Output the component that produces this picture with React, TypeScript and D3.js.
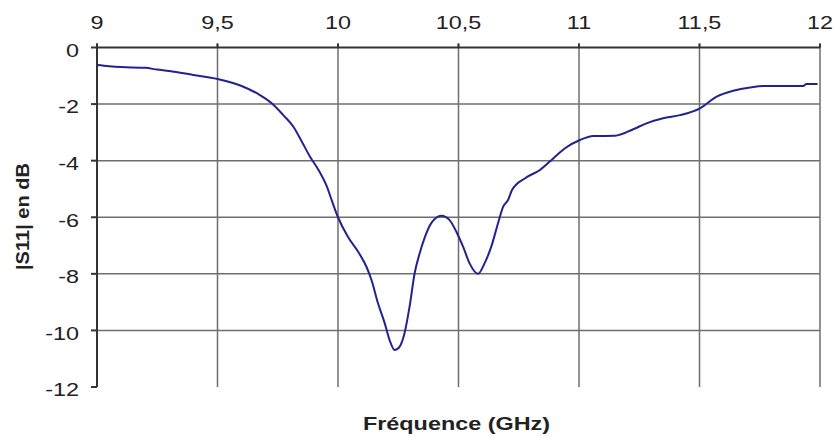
import React from "react";
import * as d3 from "d3";

const freq = [
  9.0, 9.05, 9.1, 9.2, 9.25, 9.3, 9.4, 9.5, 9.6, 9.676, 9.725, 9.773, 9.815, 9.85,
  9.884, 9.919, 9.954, 9.976, 10.0, 10.041, 10.083, 10.118, 10.139, 10.166, 10.194,
  10.214, 10.235, 10.256, 10.276, 10.297, 10.318, 10.339, 10.359, 10.387, 10.429,
  10.463, 10.491, 10.519, 10.546, 10.581, 10.608, 10.636, 10.664, 10.685, 10.705,
  10.722, 10.776, 10.838, 10.893, 10.942, 11.004, 11.06, 11.149, 11.225, 11.28,
  11.349, 11.419, 11.502, 11.571, 11.64, 11.71, 11.765, 11.93, 11.944, 11.99,
];
const s11 = [
  -0.62, -0.66, -0.69, -0.72, -0.78, -0.83, -0.97, -1.11, -1.36, -1.68, -1.97, -2.39,
  -2.8, -3.33, -3.86, -4.33, -4.92, -5.45, -6.0, -6.69, -7.21, -7.75, -8.22, -9.04,
  -9.75, -10.34, -10.69, -10.57, -10.1, -9.16, -7.98, -7.27, -6.74, -6.21, -5.95,
  -6.1, -6.51, -7.04, -7.63, -8.0, -7.63, -7.04, -6.21, -5.63, -5.4, -5.04, -4.62,
  -4.33, -3.92, -3.56, -3.27, -3.13, -3.12, -2.89, -2.68, -2.5, -2.39, -2.15, -1.74,
  -1.53, -1.41, -1.36, -1.36, -1.29, -1.29,
];
const xTicks = [9, 9.5, 10, 10.5, 11, 11.5, 12];
const xTickLabels = ["9", "9,5", "10", "10,5", "11", "11,5", "12"];
const yTicks = [0, -2, -4, -6, -8, -10, -12];
const yTickLabels = ["0", "-2", "-4", "-6", "-8", "-10", "-12"];
const xTitle = "Fréquence (GHz)";
const yTitle = "|S11| en dB";

export default function App() {
  const W = 834, H = 436;
  const x = d3.scaleLinear().domain([9, 12]).range([97, 820]);
  const y = d3.scaleLinear().domain([0, -12]).range([47.5, 387]);
  const pts = freq.map((f, i) => [f, s11[i]] as [number, number]);
  const line = d3
    .line<[number, number]>()
    .x((d) => x(d[0]))
    .y((d) => y(d[1]))
    .curve(d3.curveMonotoneX);
  const font = "'Liberation Sans', Arial, sans-serif";
  const sx = 1.3;
  return (
    <svg
      width={W}
      height={H}
      style={{ position: "absolute", left: 0, top: 0, background: "#fff" }}
      fontFamily={font}
    >
      <rect x={0} y={0} width={W} height={H} fill="#fff" />
      {/* horizontal grid */}
      {yTicks.slice(1, -1).map((t) => (
        <line key={"h" + t} x1={x(9)} x2={x(12)} y1={y(t)} y2={y(t)} stroke="#6e6e6e" strokeWidth={1.5} />
      ))}
      {/* vertical grid */}
      {xTicks.slice(1).map((t) => (
        <line key={"v" + t} x1={x(t)} x2={x(t)} y1={y(0) - 4} y2={y(-12)} stroke="#6e6e6e" strokeWidth={1.5} />
      ))}
      {/* axes */}
      <line x1={x(9)} x2={x(12)} y1={y(0)} y2={y(0)} stroke="#333" strokeWidth={2} />
      <line x1={x(9)} x2={x(9)} y1={y(0) - 4} y2={y(-12)} stroke="#333" strokeWidth={2} />
      {yTicks.map((t) => (
        <line key={"yt" + t} x1={x(9) - 6} x2={x(9)} y1={y(t)} y2={y(t)} stroke="#333" strokeWidth={2} />
      ))}
      {xTicks.map((t) => (
        <line key={"xt" + t} x1={x(t)} x2={x(t)} y1={y(0) - 4} y2={y(0)} stroke="#333" strokeWidth={2} />
      ))}
      {/* curve */}
      <path d={line(pts) || ""} fill="none" stroke="#23238f" strokeWidth={2} strokeLinejoin="round" />
      {/* tick labels */}
      {xTicks.map((t, i) => (
        <text
          key={"xl" + t}
          transform={`translate(${x(t)},28.5) scale(${sx},1)`}
          textAnchor="middle"
          fontSize={18}
          fill="#222"
        >
          {xTickLabels[i]}
        </text>
      ))}
      {yTicks.map((t, i) => (
        <text
          key={"yl" + t}
          transform={`translate(79,${y(t) + 9.3}) scale(${sx},1)`}
          textAnchor="end"
          fontSize={18}
          fill="#222"
        >
          {yTickLabels[i]}
        </text>
      ))}
      {/* titles */}
      <text
        transform={`translate(456.5,430) scale(${sx},1)`}
        textAnchor="middle"
        fontSize={18}
        fontWeight="bold"
        fill="#222"
      >
        {xTitle}
      </text>
      <text
        transform={`translate(29,216.5) rotate(-90)`}
        textAnchor="middle"
        fontSize={18}
        fontWeight="bold"
        fill="#222"
        textLength={107}
        lengthAdjust="spacingAndGlyphs"
      >
        {yTitle}
      </text>
    </svg>
  );
}
